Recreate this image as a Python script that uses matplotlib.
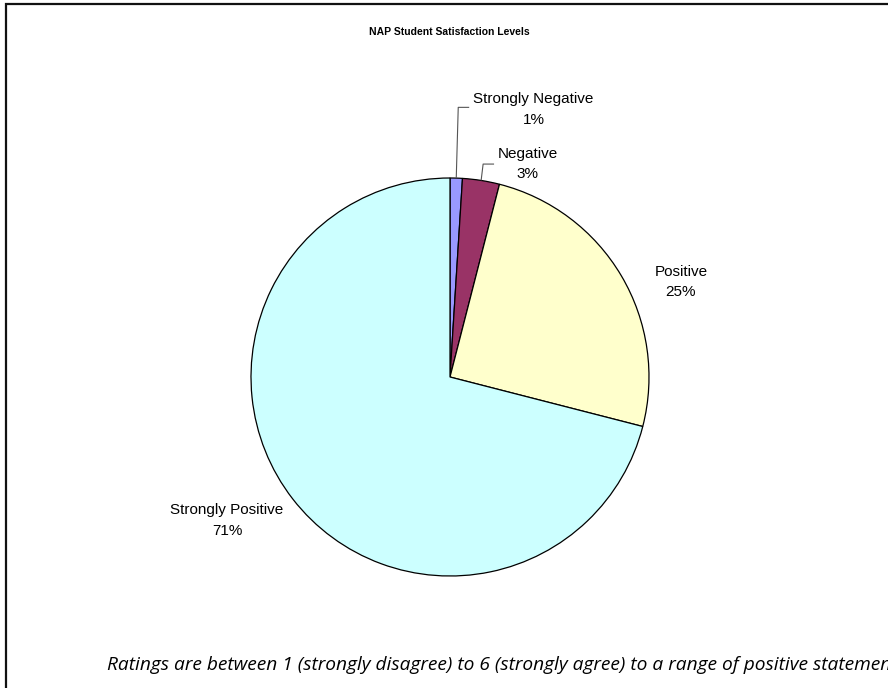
import numpy as np
import matplotlib
matplotlib.use("Agg")
import matplotlib.pyplot as plt
from matplotlib.patches import Rectangle

# Survey results
categories = ["Strongly Negative", "Negative", "Positive", "Strongly Positive"]
shares = [1, 3, 25, 71]
colors = ["#9999FF", "#993366", "#FFFFCC", "#CCFFFF"]

title = "NAP Student Satisfaction Levels"
note = ("Ratings are between 1 (strongly disagree) to 6 (strongly agree) "
        "to a range of positive statements")

# label anchor positions (pie radius units) and whether a leader line is drawn
label_pos = [(0.42, 1.345), (0.39, 1.07), (1.16, 0.477), (-1.12, -0.72)]
leader = [True, True, False, False]

W, H = 888, 688
fig = plt.figure(figsize=(W / 100, H / 100), dpi=100)
fig.patch.set_facecolor("white")

# chart frame (open at right and bottom)
fig.add_artist(Rectangle((6 / W, -0.1), 1.2, 1 - 4 / H + 0.1,
                         transform=fig.transFigure, fill=False,
                         edgecolor="#111111", linewidth=1.6))

cx, cy, r = 450, 377, 199
ext = 1.6
ax = fig.add_axes([(cx - r * ext) / W, (H - cy - r * ext) / H,
                   2 * r * ext / W, 2 * r * ext / H])

wedges, _ = ax.pie(shares, colors=colors, startangle=90, counterclock=False,
                   radius=1.0,
                   wedgeprops=dict(edgecolor="black", linewidth=0.9))
ax.set_xlim(-ext, ext)
ax.set_ylim(-ext, ext)
ax.axis("off")

font = "Liberation Sans"
cum = np.cumsum([0] + shares[:-1])
for i, (cat, val) in enumerate(zip(categories, shares)):
    lx, ly = label_pos[i]
    ax.text(lx, ly, f"{cat}\n{val}%", ha="center", va="center",
            fontsize=11, family=font, linespacing=1.6, color="black")
    if leader[i]:
        theta = np.deg2rad(90 - 360 * (cum[i] + val / 2) / sum(shares))
        x0, y0 = np.cos(theta), np.sin(theta)
        ex = x0 + 0.01
        ey = ly + (0.01 if i == 0 else 0.0)
        ax.plot([x0, ex, ex + 0.055], [y0, ey, ey], color="#555555",
                linewidth=0.8, solid_capstyle="butt")

fig.text(449 / W, 1 - 32 / H, title, ha="center", va="center",
         fontsize=7.5, fontweight="bold", family=font)

fig.text(107 / W, 1 - 665 / H, note, ha="left", va="center",
         fontsize=13.8, style="italic", family="Open Sans")

fig.savefig("out.png", dpi=100, facecolor="white")
